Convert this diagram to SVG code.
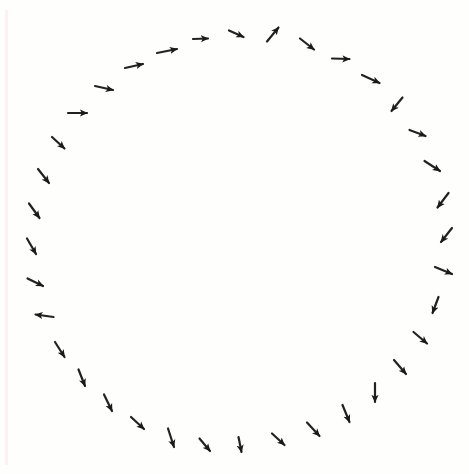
<svg xmlns="http://www.w3.org/2000/svg" width="469" height="474" viewBox="0 0 469 474">
<defs>
<style>
.a{stroke:#222;stroke-width:2.2;stroke-linecap:round;fill:none;marker-end:url(#h)}
</style>
<marker id="h" viewBox="0 0 10 10" refX="9" refY="5" markerUnits="userSpaceOnUse" markerWidth="8" markerHeight="8" orient="auto">
<path d="M0,0.5 L10,5 L0,9.5 L2.5,5 Z" fill="#1a1a1a"/>
</marker>
</defs>
<rect width="469" height="474" fill="#fefefd"/>
<rect x="5" y="10" width="3" height="455" fill="#fcf0f2"/>
<g id="arrows">
<line class="a" x1="68" y1="113" x2="87" y2="113"/>
<line class="a" x1="95" y1="86" x2="113" y2="90"/>
<line class="a" x1="125" y1="68" x2="143" y2="64"/>
<line class="a" x1="157" y1="53" x2="177" y2="49"/>
<line class="a" x1="193" y1="39" x2="208" y2="38.5"/>
<line class="a" x1="229" y1="30.5" x2="243.5" y2="37"/>
<line class="a" x1="267" y1="41.5" x2="278.5" y2="27.5"/>
<line class="a" x1="300" y1="38.5" x2="314" y2="49.5"/>
<line class="a" x1="332" y1="58.5" x2="349.5" y2="59"/>
<line class="a" x1="362" y1="75" x2="379.5" y2="83"/>
<line class="a" x1="402.5" y1="97.5" x2="391.5" y2="111"/>
<line class="a" x1="409.5" y1="130" x2="425.5" y2="136"/>
<line class="a" x1="424.5" y1="161" x2="440" y2="171"/>
<line class="a" x1="448.5" y1="193" x2="437.5" y2="207.5"/>
<line class="a" x1="452" y1="228" x2="441" y2="242"/>
<line class="a" x1="435" y1="267" x2="452" y2="274"/>
<line class="a" x1="438.5" y1="297" x2="432.5" y2="313"/>
<line class="a" x1="413.5" y1="332" x2="427" y2="343.5"/>
<line class="a" x1="394" y1="360" x2="406" y2="374"/>
<line class="a" x1="375" y1="383" x2="375" y2="402"/>
<line class="a" x1="342.5" y1="405" x2="349.5" y2="422"/>
<line class="a" x1="307" y1="422.5" x2="319.5" y2="436"/>
<line class="a" x1="272" y1="433.5" x2="284.5" y2="445"/>
<line class="a" x1="238.5" y1="437" x2="241.5" y2="452"/>
<line class="a" x1="199.5" y1="438.5" x2="210" y2="451"/>
<line class="a" x1="168" y1="428.5" x2="174" y2="447"/>
<line class="a" x1="131" y1="417" x2="144" y2="429"/>
<line class="a" x1="104" y1="394.5" x2="112" y2="411"/>
<line class="a" x1="78.5" y1="369.5" x2="85" y2="386"/>
<line class="a" x1="55" y1="342" x2="64.5" y2="357"/>
<line class="a" x1="53.5" y1="317" x2="35.5" y2="314.5"/>
<line class="a" x1="27.5" y1="278.5" x2="43" y2="286"/>
<line class="a" x1="27" y1="238.5" x2="36" y2="254"/>
<line class="a" x1="29" y1="203.5" x2="39.5" y2="218"/>
<line class="a" x1="38" y1="169" x2="49" y2="183"/>
<line class="a" x1="52" y1="137" x2="64.5" y2="148.5"/>
</g>
</svg>
